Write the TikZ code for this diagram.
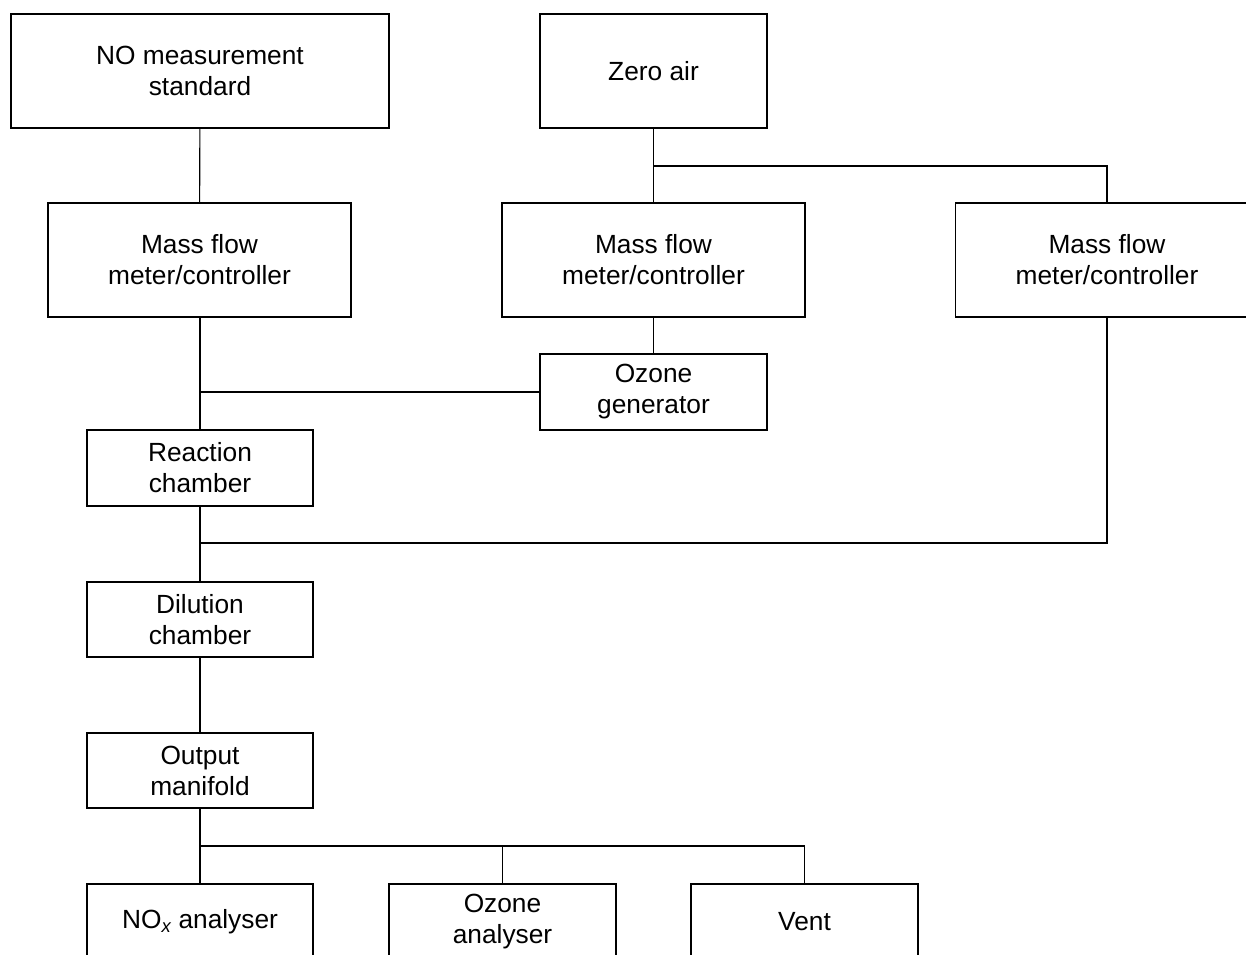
\documentclass[tikz,border=0pt]{standalone}
\usepackage{fontspec}
\setmainfont{Liberation Sans}
\begin{document}
\begin{tikzpicture}[x=1pt,y=-1pt,
  box/.style={draw,line width=1.6pt,inner sep=0pt,align=center,font=\fontsize{26.3}{31}\selectfont},
  wire/.style={line width=1.1pt}]
\useasboundingbox (0,0) rectangle (1246,954);
\clip (0,0) rectangle (1246,954);
\node[box,minimum width=378,minimum height=114] (nostd) at (200,71) {NO measurement\\standard};
\node[box,minimum width=227,minimum height=114] (zero) at (653.5,71) {Zero air};
\node[box,minimum width=303,minimum height=114] (mfc1) at (199.5,260) {Mass flow\\meter/controller};
\node[box,minimum width=303,minimum height=114] (mfc2) at (653.5,260) {Mass flow\\meter/controller};
\node[box,minimum width=303,minimum height=114] (mfc3) at (1107,260) {Mass flow\\meter/controller};
\node[box,minimum width=227,minimum height=76] (ozg) at (653.5,392) {Ozone\\generator};
\node[box,minimum width=226,minimum height=76] (react) at (200,468) {Reaction\\chamber};
\node[box,minimum width=226,minimum height=75] (dil) at (200,619.5) {Dilution\\chamber};
\node[box,minimum width=226,minimum height=75] (out) at (200,770.5) {Output\\manifold};
\node[box,minimum width=226,minimum height=76] (nox) at (200,922) {NO$_{\mathit{x}}$ analyser};
\node[box,minimum width=227,minimum height=76] (oza) at (502.5,922) {Ozone\\analyser};
\node[box,minimum width=227,minimum height=76] (vent) at (804.5,922) {Vent};
\coordinate (j1) at (653.5,166);
\coordinate (j2) at (200,392);
\coordinate (j3) at (200,543);
\coordinate (j4) at (200,846);
\draw[wire] (nostd) -- (mfc1);
\draw[wire] (zero) -- (mfc2);
\draw[wire] (j1) -| (mfc3.north);
\draw[wire] (mfc2) -- (ozg);
\draw[wire] (mfc1.south -| react.north) -- (react.north);
\draw[wire] (ozg.west) -- (j2);
\draw[wire] (react) -- (dil);
\draw[wire] (mfc3.south) |- (j3);
\draw[wire] (dil) -- (out);
\draw[wire] (out) -- (nox);
\draw[wire] (j4) -| (oza.north);
\draw[wire] (j4) -| (vent.north);
\end{tikzpicture}
\end{document}
